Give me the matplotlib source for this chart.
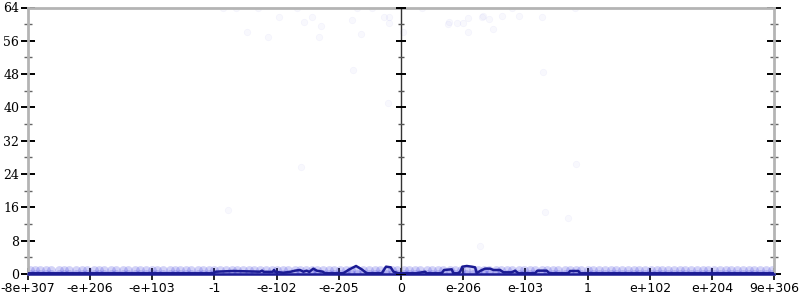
import matplotlib
matplotlib.use("Agg")
import matplotlib.pyplot as plt

# x positions are in "tick units" (-6 .. 6), labels below
x_ticks = [-6, -5, -4, -3, -2, -1, 0, 1, 2, 3, 4, 5, 6]
x_labels = ["-8e+307", "-e+206", "-e+103", "-1", "-e-102", "-e-205", "0",
            "e-206", "e-103", "1", "e+102", "e+204", "9e+306"]
y_major = [0, 8, 16, 24, 32, 40, 48, 56, 64]
y_minor = [4, 12, 20, 28, 36, 44, 52, 60]

# sparse scattered samples
pts_x = [-2.867, -2.658, -2.294, -1.677, -1.957, -1.555, -1.436, -1.291, -2.471,
         -2.133, -1.318, -0.783, -0.712, -0.471, -0.273, -0.188, -0.188, -0.643,
         -0.767, -0.204, 0.333, 0.037, 0.772, 0.760, 0.905, 1.002, 1.082, 1.072,
         1.307, 1.323, 1.415, 1.479, 1.619, 1.789, 1.902, 2.262, 2.797, 2.278,
         -1.608, -2.788, 2.805, 2.315, 2.683, 1.264]
pts_y = [64, 64, 64, 64, 61.8, 60.5, 61.8, 59.6, 58.0,
         57.0, 57.0, 61.0, 64, 64, 61.6, 61.8, 60.3, 57.6,
         49.0, 41.0, 64, 58.2, 60.6, 60.0, 60.2, 60.3, 61.4, 58.2,
         61.6, 62.0, 61.2, 58.8, 62.0, 64, 62.0, 61.6, 64, 48.6,
         25.6, 15.4, 26.4, 15.0, 13.5, 6.8]

# dense band of samples near the bottom
band_x = [-5.97, -5.88, -5.81, -5.70, -5.62, -5.49, -5.41, -5.33, -5.22, -5.12, -5.04,
          -4.93, -4.85, -4.77, -4.66, -4.58, -4.47, -4.39, -4.28, -4.19, -4.10, -4.01,
          -3.92, -3.83, -3.72, -3.64, -3.55, -3.46, -3.37, -3.27, -3.18, -3.09, -3.00,
          -2.91, -2.81, -2.72, -2.63, -2.54, -2.44, -2.36, -2.26, -2.17, -2.08, -1.99,
          -1.89, -1.81, -1.71, -1.62, -1.53, -1.43, -1.35, -1.25, -1.16, -1.07, -0.98,
          -0.88, -0.80, -0.70, -0.61, -0.52, -0.42, -0.34, -0.24, -0.15, -0.06, 0.04,
          0.13, 0.22, 0.31, 0.41, 0.50, 0.59, 0.68, 0.78, 0.87, 0.96, 1.05, 1.15, 1.24,
          1.33, 1.42, 1.52, 1.61, 1.70, 1.79, 1.89, 1.98, 2.07, 2.16, 2.26, 2.35, 2.44,
          2.53, 2.63, 2.72, 2.81, 2.90, 3.00, 3.09, 3.18, 3.27, 3.37, 3.46, 3.55, 3.64,
          3.74, 3.83, 3.92, 4.01, 4.11, 4.20, 4.29, 4.38, 4.48, 4.57, 4.66, 4.75, 4.85,
          4.94, 5.03, 5.12, 5.22, 5.31, 5.40, 5.49, 5.59, 5.68, 5.77, 5.86, 5.96]
band_levels = [0, 1]

# smoothed line
line_x = [-6.0, -3.018, -2.974, -2.696, -2.267, -2.235, -2.203, -2.063, -2.042, -2.021,
          -1.892, -1.785, -1.704, -1.624, -1.570, -1.517, -1.474, -1.410, -1.355,
          -1.259, -1.222, -0.927, -0.847, -0.723, -0.632, -0.551, -0.310, -0.241,
          -0.166, -0.123, -0.043, 0.0, 0.252, 0.386, 0.413, 0.654, 0.691, 0.815,
          0.841, 0.921, 0.949, 0.986, 1.056, 1.137, 1.190, 1.217, 1.270, 1.350,
          1.431, 1.484, 1.592, 1.645, 1.780, 1.833, 1.886, 2.154, 2.191, 2.342,
          2.384, 2.690, 2.717, 2.850, 2.878, 5.986]
line_y = [0.17, 0.17, 0.55, 0.72, 0.55, 0.8, 0.5, 0.5, 0.96, 0.5,
          0.3, 0.5, 0.8, 0.96, 0.55, 0.8, 0.5, 1.28, 0.8,
          0.55, 0.17, 0.17, 0.96, 1.92, 1.12, 0.17, 0.17, 1.76,
          1.6, 0.55, 0.17, 0.17, 0.17, 0.55, 0.17, 0.17, 0.96, 1.12,
          0.17, 0.17, 0.55, 1.76, 1.92, 1.76, 1.6, 0.17, 0.72, 1.28,
          1.28, 0.96, 0.96, 0.4, 0.4, 0.8, 0.17, 0.17, 0.8, 0.8,
          0.17, 0.17, 0.72, 0.72, 0.17, 0.17]

plt.rcParams['font.family'] = ['DejaVu Serif']
fig = plt.figure(figsize=(8, 3), dpi=100)
ax = fig.add_axes([0.0346, 0.0867, 0.968 - 0.0346, 0.975 - 0.0867])

pt_color = (0.15, 0.15, 0.85)
ax.scatter(pts_x, pts_y, s=22, color=pt_color, alpha=0.03, linewidths=0.6, zorder=2)
for lv in band_levels:
    ax.scatter(band_x, [lv] * len(band_x), s=40, color=pt_color, alpha=0.2,
               linewidths=0, zorder=2)
ax.plot(line_x, line_y, color='#1c1c94', lw=1.8, zorder=4)

# center vertical axis line with ticks
ax.axvline(0, color='#333333', lw=1.0, zorder=3)
ax.plot([0] * len(y_major), y_major, linestyle='none', marker='_', markersize=7.5,
        markeredgewidth=1.4, color='black', zorder=3, clip_on=False)
ax.plot([0] * len(y_minor), y_minor, linestyle='none', marker='_', markersize=4.5,
        markeredgewidth=1.0, color='#555555', zorder=3, clip_on=False)

ax.set_xlim(-6, 6)
ax.set_ylim(0, 64)
ax.set_xticks(x_ticks)
ax.set_xticklabels(x_labels, family='DejaVu Sans', fontsize=9)
ax.set_yticks(y_major)
ax.set_yticks(y_minor, minor=True)

for side in ['left', 'top', 'right']:
    ax.spines[side].set_color('#b4b4b4')
    ax.spines[side].set_linewidth(2)
ax.spines['bottom'].set_color('#1c1c94')
ax.spines['bottom'].set_linewidth(1.8)

ax.tick_params(axis='y', which='major', direction='inout', length=10, width=1.4,
               color='black', labelsize=9, pad=1, right=True, left=True)
ax.tick_params(axis='y', which='minor', direction='inout', length=6, width=1.0,
               color='#666666', right=True, left=True)
ax.tick_params(axis='x', which='major', direction='inout', length=8, width=1.2,
               color='black', pad=2)

fig.savefig('out.png', dpi=100)
